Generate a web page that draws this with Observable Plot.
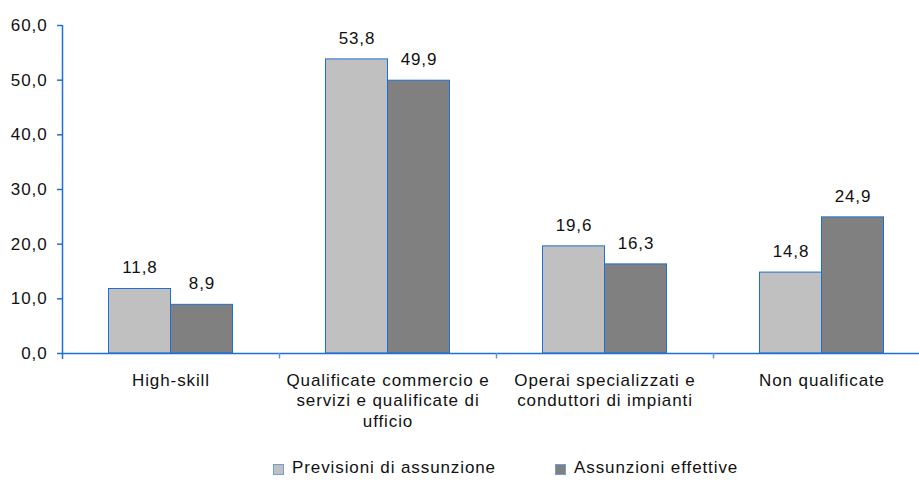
<!DOCTYPE html>
<html>
<head>
<meta charset="utf-8">
<script src="https://cdn.jsdelivr.net/npm/d3@7"></script>
<script src="https://cdn.jsdelivr.net/npm/@observablehq/plot@0.6"></script>
<style>
  html, body { margin: 0; padding: 0; background: #fff; overflow: hidden; }
  #wrap { position: relative; width: 919px; height: 494px; }
  #legend { position: absolute; left: 0; top: 458px; width: 919px; height: 20px;
    font-family: "Liberation Sans", Arial, sans-serif; font-size: 17px; letter-spacing: 0.9px; color: #111; }
  .item { position: absolute; top: 0; display: flex; align-items: center; white-space: nowrap; }
  .sw { width: 11px; height: 11px; box-sizing: border-box; border: 1px solid #6f9fd8; margin-right: 8px; margin-top: 3px; }
</style>
</head>
<body>
<div id="wrap"><div id="chart"></div><div id="legend"></div></div>
<script>
const categories = ["High-skill", "Qualificate commercio e servizi e qualificate di ufficio", "Operai specializzati e conduttori di impianti", "Non qualificate"];
const categoryLabels = ["High-skill", "Qualificate commercio e\nservizi e qualificate di\nufficio", "Operai specializzati e\nconduttori di impianti", "Non qualificate"];
const seriesNames = ["Previsioni di assunzione", "Assunzioni effettive"];
const previsioni = [11.8, 53.8, 19.6, 14.8];
const effettive = [8.9, 49.9, 16.3, 24.9];
const yTicks = [0, 10, 20, 30, 40, 50, 60];
const seriesColors = ["#c0c0c0", "#808080"];

const blue = "#1f6fd2";
const fmt = d => d3.format(".1f")(d).replace(".", ",");
const idx = categories.map((c, i) => i);
const prevRows = categories.map((c, i) => ({i, cat: c, value: previsioni[i]}));
const effRows = categories.map((c, i) => ({i, cat: c, value: effettive[i]}));

const chart = Plot.plot({
  width: 919,
  height: 445,
  marginLeft: 62,
  marginRight: 0,
  marginTop: 25,
  marginBottom: 92,
  style: {fontFamily: "Liberation Sans, Arial, sans-serif", fontSize: "17px", letterSpacing: "0.9px", color: "#111", background: "#fff"},
  x: {type: "linear", domain: [0, categories.length], range: [62, 930], axis: null},
  y: {domain: [0, 60], range: [353, 25], axis: null},
  marks: [
    Plot.rectY(prevRows, {x1: d => d.i, x2: d => d.i + 1, y: "value", fill: seriesColors[0], stroke: blue, strokeWidth: 1, insetLeft: 46.5, insetRight: 108.5}),
    Plot.rectY(effRows, {x1: d => d.i, x2: d => d.i + 1, y: "value", fill: seriesColors[1], stroke: blue, strokeWidth: 1, insetLeft: 108.5, insetRight: 46.5}),
    Plot.text(prevRows, {x: d => d.i + 0.5, y: "value", text: d => fmt(d.value), dx: -31, dy: -21, fill: "#111"}),
    Plot.text(effRows, {x: d => d.i + 0.5, y: "value", text: d => fmt(d.value), dx: 31, dy: -21, fill: "#111"}),
    Plot.ruleY([0], {stroke: blue, strokeWidth: 1.5}),
    Plot.ruleX([0], {y1: 60, y2: -1.1, stroke: blue, strokeWidth: 1.5}),
    Plot.ruleX(idx.slice(1), {y1: 0, y2: -1.0, stroke: "#5b95dc", strokeWidth: 1.5}),
    Plot.axisY({ticks: yTicks, tickFormat: fmt, tickSize: 5, tickPadding: 10, stroke: blue, fill: "#111", strokeWidth: 1.5, label: null}),
    Plot.text(idx, {x: d => d + 0.5, y: () => 0, text: d => categoryLabels[d], lineAnchor: "top", dy: 18, lineHeight: 1.2, fill: "#111"})
  ]
});
document.getElementById("chart").appendChild(chart);

const legend = document.getElementById("legend");
const legendLeft = [273, 555];
seriesNames.forEach((name, k) => {
  const item = document.createElement("div");
  item.className = "item";
  item.style.left = legendLeft[k] + "px";
  const sw = document.createElement("span");
  sw.className = "sw";
  sw.style.background = seriesColors[k];
  const t = document.createElement("span");
  t.textContent = name;
  item.appendChild(sw);
  item.appendChild(t);
  legend.appendChild(item);
});
</script>
</body>
</html>
